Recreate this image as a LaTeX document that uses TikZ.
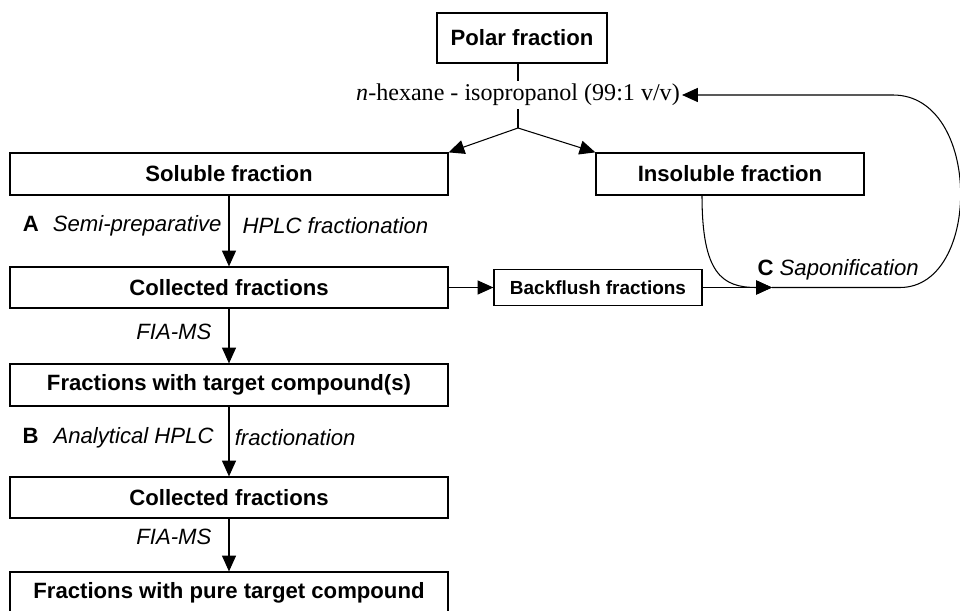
\documentclass[tikz,border=0pt]{standalone}
\usepackage{fontspec}
\setmainfont{Liberation Sans}
\newfontfamily\solvfont{Liberation Serif}
\usetikzlibrary{arrows.meta}

\begin{document}
\begin{tikzpicture}[x=0.02cm, y=-0.02cm, >={Triangle[length=9pt,width=8pt]}, line width=0.6pt,
	box/.style={draw, line width=0.7pt, inner sep=0pt, minimum height=0.84cm, font=\fontsize{12.6}{15}\selectfont\bfseries},
	wide/.style={box, minimum width=8.76cm},
	lbl/.style={font=\fontsize{12.6}{15}\selectfont\itshape, inner sep=0pt}]
	\useasboundingbox (0,0) rectangle (960,611);
	\clip (0,0) rectangle (960,611);
	% top: polar fraction and solvent
	\node[box, minimum width=3.4cm, minimum height=1cm] (polar) at (522,38) {Polar fraction};
	\node[font=\solvfont\fontsize{13.7}{16}\selectfont, inner xsep=1pt, inner ysep=1.5pt] (solv) at (518,95) {\textit{n}-hexane - isopropanol (99:1 v/v)};
	\coordinate (split) at (518,128);
	\draw (polar.south -| solv.north) -- (solv.north);
	\draw (solv.south) -- (split);
	% left column
	\node[wide] (soluble) at (229,174) {Soluble fraction};
	\node[box, minimum width=5.36cm] (insoluble) at (730,174) {Insoluble fraction};
	\node[wide, minimum height=0.82cm] (coll1) at (229,287.5) {Collected fractions};
	\node[wide] (target) at (229,385) {Fractions with target compound(s)};
	\node[wide, minimum height=0.82cm] (coll2) at (229,497.5) {Collected fractions};
	\node[wide] (pure) at (229,593) {Fractions with pure target compound};
	\draw[->] (split) -- (soluble.north east);
	\draw[->] (split) -- (insoluble.north west);
	\draw[->] (soluble) -- (coll1)
		node[lbl, pos=.42, anchor=east, xshift=-4pt] {\textup{\bfseries A}\hspace{8pt}Semi-preparative}
		node[lbl, pos=.42, anchor=west, xshift=7.4pt] {HPLC fractionation};
	\draw[->] (coll1) -- (target) node[lbl, pos=.43, anchor=east, xshift=-9.7pt] {FIA-MS};
	\draw[->] (target) -- (coll2)
		node[lbl, pos=.45, anchor=east, xshift=-8.5pt] {\textup{\bfseries B}\hspace{8.5pt}Analytical HPLC}
		node[lbl, pos=.45, anchor=west, xshift=3pt] {fractionation};
	\draw[->] (coll2) -- (pure) node[lbl, pos=.35, anchor=east, xshift=-9.7pt] {FIA-MS};
	% backflush and saponification loop
	\node[box, minimum width=4.16cm, minimum height=0.72cm, font=\fontsize{10.8}{13}\selectfont\bfseries] (back) at (598,287.5) {Backflush fractions};
	\coordinate (sapo) at (772,287.5);
	\coordinate (rt) at (893,0);
	\draw[->] (coll1) -- (back);
	\draw[->] (back) -- (sapo);
	\draw[->] ([xshift=-0.56cm]insoluble.south) .. controls +(0,78) and +(-50,0) .. (sapo);
	\draw[->] (sapo) -- ++(128,0) .. controls +(82,0) and +(89,0) .. (solv.east -| rt) -- (solv.east);
	\node[anchor=base west, font=\fontsize{12.6}{15}\selectfont, inner sep=0pt] (saplbl) at ([xshift=-0.3cm, yshift=0.24cm]sapo) {\textbf{C} \textit{Saponification}};
\end{tikzpicture}
\end{document}
